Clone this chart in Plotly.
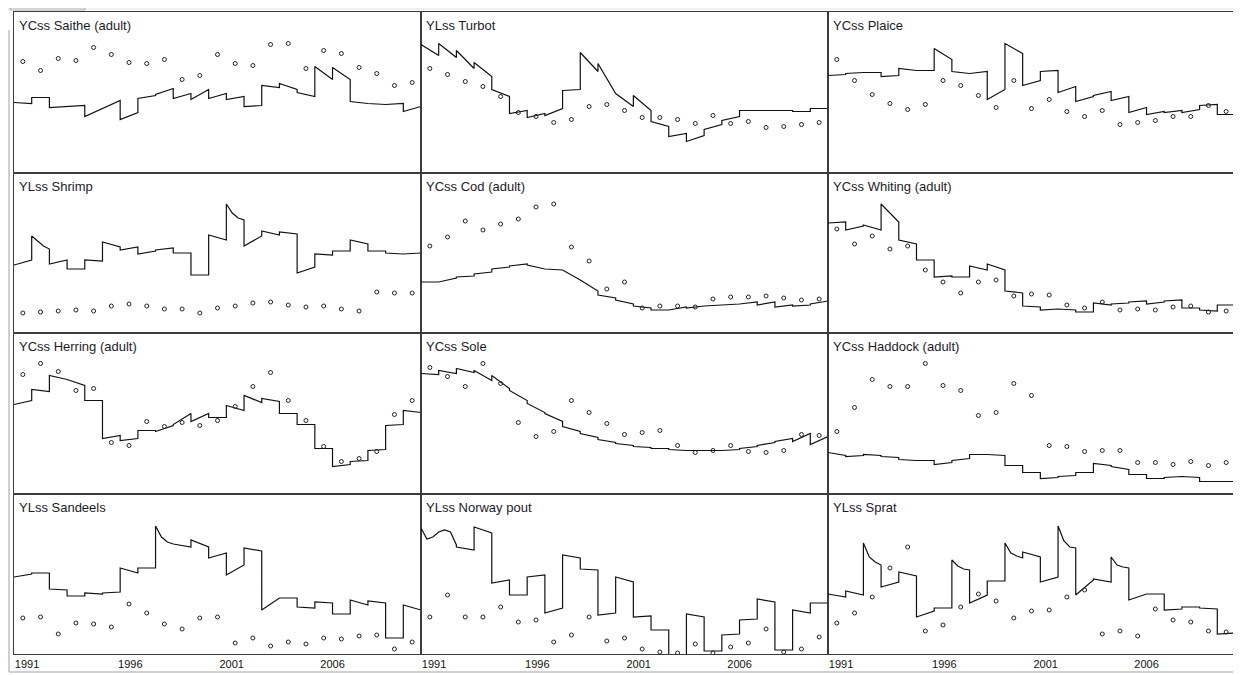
import plotly.graph_objects as go
from plotly.subplots import make_subplots

# --- data (relative units, panel height ~160) ---
# *_FIT: values inside each year, spread evenly from year start to year end
YEARS = list(range(1991, 2014))
TICK_TEXT = ["1991", "1996", "2001", "2006"]
TICK_POS = [1991.74, 1997.57, 2003.3, 2009.0]

TITLES = [
    "YCss Saithe (adult)", "YLss Turbot", "YCss Plaice",
    "YLss Shrimp", "YCss Cod (adult)", "YCss Whiting (adult)",
    "YCss Herring (adult)", "YCss Sole", "YCss Haddock (adult)",
    "YLss Sandeels", "YLss Norway pout", "YLss Sprat",
]

SAITHE_OBS = [111, 102, 114, 112, 125, 118, 110, 109, 113, 93, 97, 118,
              109, 107, 128, 129, 104, 122, 119, 105, 99, 87, 90]
SAITHE_FIT = [[70, 69], [75, 75], [65, 66], [66, 67], [56, 64], [64, 72],
              [53, 60], [74, 77], [78, 84], [74, 79], [73, 83], [74, 79],
              [73, 76], [66, 67], [87, 85], [89, 83], [80, 76], [106, 93],
              [105, 93], [71, 69], [69, 68], [68, 69], [61, 66]]

TURBOT_OBS = [104, 98, 91, 86, 76, 60, 56, 50, 53, 66, 68, 62,
              55, 55, 53, 49, 57, 49, 51, 45, 46, 48, 50]
TURBOT_FIT = [[128, 117], [129, 115], [122, 104], [110, 96], [83, 76], [59, 62],
              [55, 59], [57, 64], [82, 83], [120, 101], [109, 79], [79, 66],
              [77, 62], [51, 46], [36, 39], [31, 37], [43, 48], [52, 56],
              [62, 62], [62, 62], [62, 62], [61, 61], [64, 64]]

PLAICE_OBS = [113, 92, 78, 69, 63, 68, 92, 87, 77, 65, 92, 64,
              73, 61, 56, 62, 48, 50, 52, 56, 56, 67, 61]
PLAICE_FIT = [[97, 98], [99, 100], [100, 100], [96, 97], [104, 102], [102, 102],
              [124, 113], [101, 99], [99, 101], [73, 83], [129, 119], [87, 92],
              [101, 102], [80, 86], [71, 76], [77, 81], [72, 76], [60, 65],
              [58, 61], [60, 62], [60, 63], [67, 68], [58, 58]]

SHRIMP_OBS = [20, 21, 22, 23, 22, 27, 29, 27, 24, 24, 20, 25,
              27, 30, 31, 28, 26, 27, 24, 22, 41, 40, 40]
SHRIMP_FIT = [[68, 73], [97, 92, 87, 84], [69, 73], [64, 64], [73, 72], [91, 86],
              [83, 86], [79, 82], [83, 85], [80, 80], [58, 58], [98, 93],
              [129, 120, 115, 113], [87, 97], [102, 98], [101, 99], [60, 66], [79, 78],
              [82, 82], [93, 89], [82, 82], [80, 79], [79, 80]]

COD_OBS = [87, 96, 112, 103, 109, 114, 126, 129, 86, 72, 44, 51,
           25, 27, 27, 26, 34, 36, 36, 37, 35, 33, 34]
COD_FIT = [[51, 51], [51, 55], [56, 57], [59, 61], [64, 66], [67, 69],
           [68, 64], [64, 63], [63, 53], [53, 42], [38, 35], [33, 29],
           [27, 25], [23, 23], [23, 26], [25, 27], [27, 28], [28, 29],
           [29, 31], [28, 31], [26, 28], [27, 28], [29, 32]]

WHITING_OBS = [104, 89, 97, 84, 87, 63, 51, 40, 51, 53, 37, 39,
               38, 28, 25, 31, 23, 24, 23, 26, 27, 21, 22]
WHITING_FIT = [[110, 111], [103, 107], [108, 103], [129, 111], [93, 89], [73, 73],
               [56, 57], [56, 56], [67, 63], [69, 63], [42, 40], [27, 26],
               [23, 24], [24, 23], [21, 21], [30, 28], [29, 30], [31, 32],
               [29, 31], [32, 33], [25, 25], [23, 22], [28, 28]]

HERRING_OBS = [119, 130, 122, 103, 105, 51, 48, 72, 67, 71, 68, 73,
               87, 107, 121, 93, 73, 47, 32, 35, 42, 79, 93]
HERRING_FIT = [[89, 93], [104, 102], [118, 114], [114, 108], [93, 93], [55, 58],
               [53, 55], [63, 63], [62, 68], [69, 80], [72, 80], [76, 76],
               [88, 83], [98, 91], [95, 92], [80, 80], [69, 69], [45, 45],
               [27, 29], [32, 33], [43, 44], [68, 69], [83, 81]]

SOLE_OBS = [126, 117, 107, 130, 110, 71, 57, 62, 93, 81, 70, 59,
            61, 63, 48, 41, 43, 48, 42, 41, 43, 59, 58]
SOLE_FIT = [[120, 119], [123, 120], [125, 121], [123, 113], [118, 105], [103, 93],
            [90, 81], [80, 72], [67, 62], [60, 56], [54, 51], [50, 48],
            [47, 46], [45, 45], [44, 43], [43, 43], [43, 43], [43, 44],
            [45, 47], [48, 51], [52, 55], [52, 60], [49, 57]]

HADDOCK_OBS = [62, 86, 114, 107, 107, 130, 108, 103, 78, 81, 110, 98,
               48, 47, 42, 43, 43, 31, 31, 29, 32, 28, 31]
HADDOCK_FIT = [[41, 38], [37, 38], [39, 38], [37, 36], [34, 33], [33, 33],
               [29, 31], [33, 35], [39, 39], [39, 38], [28, 28], [21, 21],
               [15, 16], [17, 18], [21, 21], [30, 28], [27, 24], [19, 19],
               [15, 15], [16, 17], [17, 16], [12, 12], [12, 12]]

SANDEELS_OBS = [36, 37, 20, 31, 30, 27, 50, 41, 30, 25, 36, 37,
                11, 16, 8, 12, 10, 16, 15, 18, 19, 5, 12]
SANDEELS_FIT = [[77, 80], [81, 81], [65, 64], [58, 58], [61, 60], [61, 62],
                [86, 81], [86, 86], [128, 117, 112, 110], [110, 107], [114, 107], [96, 101],
                [79, 89], [106, 103], [44, 56], [56, 56], [47, 46], [52, 51],
                [40, 40], [54, 49], [53, 51], [16, 16], [49, 44]]

NPOUT_OBS = [37, 59, 37, 37, 47, 32, 34, 12, 19, 37, 13, 16,
             5, 2, 1, 10, 1, 7, 11, 25, 2, 5, 17]
NPOUT_FIT = [[126, 115, 117, 122], [122, 124, 122, 109], [107, 104], [127, 121],
             [71, 74], [59, 59], [77, 79], [41, 46], [99, 96], [85, 84], [39, 41],
             [77, 72], [37, 38], [24, 24], [-5, -5], [40, 37], [3, 3], [19, 20],
             [34, 35], [55, 52], [4, 4], [44, 41], [51, 51]]

SPRAT_OBS = [31, 41, 57, 86, 107, 23, 29, 47, 60, 53, 36, 43,
             44, 57, 64, 20, 23, 18, 45, 34, 32, 23, 22]
SPRAT_FIT = [[60, 57], [63, 59], [111, 97, 92, 89], [67, 72], [82, 78], [37, 43],
             [46, 46], [94, 88, 85, 84], [51, 59], [73, 73], [111, 101, 98, 96],
             [102, 97], [72, 77], [128, 113, 107, 106], [59, 74], [75, 72],
             [97, 89, 87, 86], [54, 60], [60, 60], [44, 45], [47, 47], [46, 45],
             [20, 21]]

PANELS = [
    (SAITHE_OBS, SAITHE_FIT), (TURBOT_OBS, TURBOT_FIT), (PLAICE_OBS, PLAICE_FIT),
    (SHRIMP_OBS, SHRIMP_FIT), (COD_OBS, COD_FIT), (WHITING_OBS, WHITING_FIT),
    (HERRING_OBS, HERRING_FIT), (SOLE_OBS, SOLE_FIT), (HADDOCK_OBS, HADDOCK_FIT),
    (SANDEELS_OBS, SANDEELS_FIT), (NPOUT_OBS, NPOUT_FIT), (SPRAT_OBS, SPRAT_FIT),
]

# la página pone el gráfico 8px hacia dentro (margen del body)
W, H = 1233, 667
ML, MR, MT, MB = 6, 6, 4, 21
BORDE = "#3c3c3c"
FUENTE = "Liberation Sans, Arial, sans-serif"


def px(x, y):
    """pixel de la ventana -> coords paper"""
    return (x - 8 - ML) / (W - ML - MR), (H - MB - (y - 8)) / (H - MT - MB)


fig = make_subplots(rows=4, cols=3, horizontal_spacing=0, vertical_spacing=0)

for k, (obs, fit) in enumerate(PANELS):
    r, c = k // 3 + 1, k % 3 + 1
    xs, ys = [], []
    for yr, vals in zip(YEARS, fit):
        n_v = len(vals)
        xs += [yr + j / (n_v - 1) for j in range(n_v)]
        ys += list(vals)
    fig.add_trace(go.Scatter(
        x=xs, y=ys, mode="lines",
        line=dict(color="#111111", width=1.2),
        showlegend=False, hoverinfo="skip",
    ), row=r, col=c)
    fig.add_trace(go.Scatter(
        x=[yr + 0.5 for yr in YEARS], y=obs, mode="markers",
        marker=dict(symbol="circle-open", size=4, color="#222222",
                    line=dict(width=1, color="#222222")),
        showlegend=False,
    ), row=r, col=c)
    n = "" if k == 0 else str(k + 1)
    fig.add_annotation(
        text=TITLES[k], xref=f"x{n} domain", yref=f"y{n} domain",
        x=0.008, y=0.975, xanchor="left", yanchor="top", showarrow=False,
        font=dict(size=13, color="#1c1c28", family=FUENTE),
    )

fig.update_xaxes(
    range=[1991, 2014], showgrid=False, zeroline=False,
    showline=True, mirror=True, linecolor=BORDE, linewidth=1,
    tickvals=TICK_POS, ticktext=TICK_TEXT, ticks="",
    tickfont=dict(size=11, color="#111111", family=FUENTE),
    showticklabels=False,
)
for c in (1, 2, 3):
    fig.update_xaxes(showticklabels=True, row=4, col=c)
fig.update_yaxes(
    range=[0, 160.5], showgrid=False, zeroline=False,
    showline=True, mirror=True, linecolor=BORDE, linewidth=1,
    showticklabels=False, ticks="",
)

# restos del marco de la ventana
x0, y0 = px(8, 8)
x1, y1 = px(1241, 10)
fig.add_shape(type="rect", xref="paper", yref="paper", x0=x0, y0=y0, x1=x1, y1=y1,
              fillcolor="#f0f0f0", line=dict(width=0), layer="below")
x0, y0 = px(10, 8)
x1, y1 = px(85, 10)
fig.add_shape(type="rect", xref="paper", yref="paper", x0=x0, y0=y0, x1=x1, y1=y1,
              fillcolor="#ffffff", line=dict(width=1, color="#a8a8a8"))
x0, y0 = px(9, 30)
x1, y1 = px(9, 672)
fig.add_shape(type="line", xref="paper", yref="paper", x0=x0, y0=y0, x1=x1, y1=y1,
              line=dict(width=1, color="#a0a0a0"))
x0, y0 = px(9, 672)
x1, y1 = px(1241, 672)
fig.add_shape(type="line", xref="paper", yref="paper", x0=x0, y0=y0, x1=x1, y1=y1,
              line=dict(width=1, color="#a0a0a0"))

fig.update_layout(
    width=W, height=H,
    margin=dict(l=ML, r=MR, t=MT, b=MB),
    paper_bgcolor="#ffffff", plot_bgcolor="#ffffff",
    font=dict(family=FUENTE, color="#111111"),
)

fig.write_html("out.html")
